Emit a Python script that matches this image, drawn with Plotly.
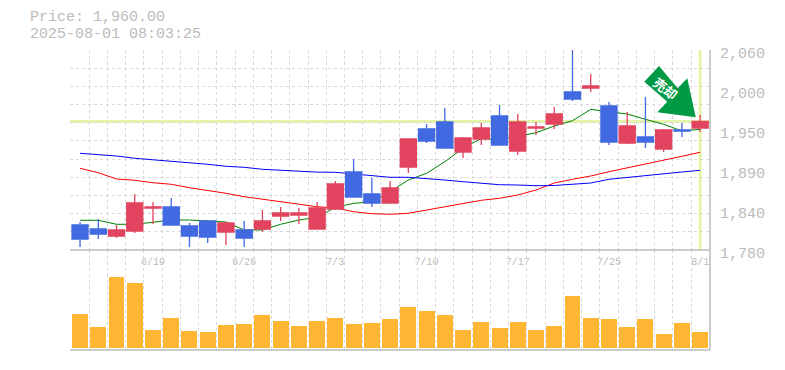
import plotly.graph_objects as go

# ---- data ----
dates = ["6/13","6/16","6/17","6/18","6/19","6/20","6/23","6/24","6/25","6/26",
         "6/27","6/30","7/1","7/2","7/3","7/4","7/7","7/8","7/9","7/10",
         "7/11","7/14","7/15","7/16","7/17","7/18","7/22","7/23","7/24","7/25",
         "7/28","7/29","7/30","7/31","8/1"]
label_every = dates[4::5]
opens = [1815,1809.4,1799.6,1806.6,1838.8,1840.2,1813.6,1820.6,1805.2,1808,
         1809.4,1827.6,1829,1809.4,1837.4,1889.2,1858.4,1845.8,1896.2,1949.4,
         1959.2,1917.2,1935.4,1967.6,1918.6,1950.8,1956.4,2001.2,2006.8,1981.6,
         1929.8,1938.2,1921.4,1948,1950.8]
closes = [1795.4,1802.4,1808,1845.8,1840.2,1815,1799.6,1798.2,1817.8,1796.8,
          1820.6,1831.8,1831.8,1838.8,1872.4,1854.2,1845.8,1866.8,1935.4,1932.6,
          1922.8,1936.8,1950.8,1927,1959.2,1952.2,1970.4,1991.4,2009.6,1931.2,
          1953.6,1931.2,1948,1946.6,1960]
highs = [1819.2,1823.4,1815,1858.4,1847.2,1852.8,1817.8,1820.6,1819.2,1820.6,
         1836,1840.2,1838.8,1847.2,1876.6,1907.4,1880.8,1876.6,1935.4,1956.4,
         1978.8,1938.2,1957.8,1983,1970.4,1959.2,1980.2,2062,2026.4,1987.2,
         1973.2,1994.2,1949.4,1957.8,1969]
lows = [1784.2,1795.4,1796.8,1803.8,1816.4,1815,1784.2,1789.8,1787,1784.2,
        1805.2,1820.6,1816.4,1809.4,1836,1854.2,1840.2,1845.8,1887.8,1929.8,
        1922.8,1908.8,1927,1927,1913,1941,1949.4,1988.6,2001.2,1927,
        1928.4,1922.8,1917.2,1938.2,1945.2]
ma_green = [1821.6,1821.6,1816,1816,1818.8,1822,1822,1821,1819.2,1808,
            1808,1816,1822,1825.8,1839.8,1845.4,1847.2,1861.6,1878,1887.4,
            1903.6,1922.4,1936.4,1934,1939.6,1944.2,1953.6,1961,1976.8,1973.2,
            1970.4,1963,1956,1946.6,1949]
ma_red = [1894.4,1888.2,1879.4,1877.6,1874.2,1872,1867.2,1863.6,1859.4,1854.6,
          1851,1847.6,1843.4,1840.6,1838.8,1833.6,1830.8,1830,1831.4,1836,
          1840.6,1845.4,1849.6,1852.4,1857,1864,1873.8,1879,1883.6,1889.6,
          1894.8,1900.4,1906,1911.2,1916.8]
ma_blue = [1915.4,1914,1911.6,1908.4,1906.4,1904.2,1901.4,1900,1897.2,1895.8,
           1893,1891.6,1890.2,1889,1888.8,1886.4,1884.6,1881.8,1881.8,1880.4,
           1878,1875.6,1873.8,1871.4,1871,1870,1870.3,1871.7,1873.8,1879,
           1881.8,1884,1886.4,1889.2,1891.6]
volumes = [34.3,21.3,71.3,65.3,18.3,30.3,17.3,16.3,23.3,24.3,33.3,27.3,22.3,27.3,30.3,24.3,25.3,29.3,
           41.3,37.3,33.3,18.3,26.3,20.3,26.3,18.3,22.3,52.3,30.3,29.3,21.3,29.3,14.3,25.3,16.3]
last_price = 1960
price_ticks = [1780,1836,1892,1948,2004,2060]
price_tick_text = ["1,780","1,840","1,890","1,950","2,000","2,060"]
title_lines = ["Price: 1,960.00", "2025-08-01 08:03:25"]
arrow_text = "売却"

# ---- style ----
GRID = "#d8d8d8"; AXIS = "#bbbbbb"; TXT = "#bbbbbb"; HL = "#e4f5a8"
RED = "#e2445f"; BLUE = "#4169e1"; VOL = "#ffb733"; ARROW = "#009944"
MONO = "Liberation Mono"
x = list(range(len(dates)))
W, H, L, R, T, B = 785, 370, 70, 75, 50, 20
pw, ph = W - L - R, H - T - B
px = lambda v: (v - L) / pw
py = lambda v: (H - B - v) / ph

fig = go.Figure()
for vals, col in ((ma_green, "#008000"), (ma_red, "#ff0000"), (ma_blue, "#0000ff")):
    fig.add_trace(go.Scatter(x=x, y=vals, mode="lines", line=dict(color=col, width=1),
                             hoverinfo="skip", showlegend=False, zorder=1))
fig.add_trace(go.Candlestick(x=x, open=opens, high=highs, low=lows, close=closes,
                             increasing=dict(line=dict(color=RED, width=1.3), fillcolor=RED),
                             decreasing=dict(line=dict(color=BLUE, width=1.3), fillcolor=BLUE),
                             whiskerwidth=0, showlegend=False, zorder=2))
fig.add_trace(go.Bar(x=x, y=volumes, xaxis="x2", yaxis="y2", width=0.875,
                     marker=dict(color=VOL, line=dict(width=0)), showlegend=False))

half_steps = [i - 0.5 for i in x] + [x[-1] + 0.5]
price_grid = [1780 + i * 280 / 11 for i in range(12)]

def minor(vals):
    return dict(showgrid=True, griddash="3px,3px", gridcolor=GRID, gridwidth=1,
                tickmode="array", tickvals=vals, ticks="")

xr = [-0.55, 34.54]
fig.update_layout(
    width=W, height=H, margin=dict(l=L, r=R, t=T, b=B, pad=0, autoexpand=False), autosize=False,
    paper_bgcolor="white", plot_bgcolor="white", boxgap=0.12, boxgroupgap=0,
    bargap=0, showlegend=False,
    font=dict(family=MONO, color=TXT),
    xaxis=dict(domain=[0, 1], range=xr, tickmode="array", tickvals=x[4::5], ticktext=label_every,
               showgrid=False, zeroline=False, showline=False, automargin=False,
               ticks="", tickfont=dict(size=10, color=TXT, family=MONO), rangeslider=dict(visible=False),
               anchor="y", minor=minor(half_steps), ticklabelstandoff=4),
    yaxis=dict(domain=[1/3, 1], range=[1780, 2060], side="right", tickmode="array",
               tickvals=price_ticks, ticktext=price_tick_text, showgrid=False, zeroline=False,
               showline=False, ticks="", anchor="x", automargin=False,
               tickfont=dict(size=15, color=TXT, family=MONO), minor=minor(price_grid),
               ticklabelshift=3, ticklabelstandoff=9),
    xaxis2=dict(domain=[0, 1], range=xr, showticklabels=False, showgrid=True, griddash="3px,3px",
                gridcolor=GRID, gridwidth=1, zeroline=False, automargin=False,
                showline=False, ticks="", anchor="y2",
                tickmode="array", tickvals=half_steps),
    yaxis2=dict(domain=[0, 1/3], range=[-2, 98], side="right", showticklabels=False, showgrid=False,
                zeroline=False, showline=False, ticks="", anchor="x2", automargin=False),
)

fig.add_shape(type="line", xref="x", yref="y", x0=xr[0], x1=xr[1], y0=last_price, y1=last_price,
              line=dict(color=HL, width=3), layer="below")
fig.add_shape(type="line", xref="x", yref="y", x0=x[-1], x1=x[-1], y0=1780, y1=2060,
              line=dict(color=HL, width=3), layer="below")
# frame lines of the two panels
for x0, y0, x1, y1 in ((0, 1/3, 1, 1/3), (0, 0, 1, 0), (1, 0, 1, 1)):
    fig.add_shape(type="line", xref="paper", yref="paper", x0=x0, y0=y0, x1=x1, y1=y1,
                  line=dict(color=AXIS, width=1.5), layer="above")

arrow_px = [(659, 66), (644.3, 81.7), (667.3, 101.7), (657.3, 112.3), (695.7, 117.3), (687.3, 78.3), (677.7, 88.3)]
path = "M " + " L ".join(f"{px(a):.4f},{py(b):.4f}" for a, b in arrow_px) + " Z"
fig.add_shape(type="path", xref="paper", yref="paper", path=path, fillcolor=ARROW, line=dict(width=0), layer="above")
fig.add_annotation(xref="paper", yref="paper", x=px(666), y=py(88), text=arrow_text, showarrow=False,
                   xanchor="center", yanchor="middle", textangle=38,
                   font=dict(family="Noto Sans CJK JP", size=13, color="white", weight="bold"))
for line, yy in zip(title_lines, (17.5, 34.5)):
    fig.add_annotation(xref="paper", yref="paper", x=px(28), y=py(yy), text=line, showarrow=False,
                       xanchor="left", yanchor="middle", font=dict(family=MONO, size=15, color=TXT))

fig.write_html("out.html", config=dict(displayModeBar=False),
               post_script="document.body.style.margin='0';document.body.style.overflow='hidden';")
